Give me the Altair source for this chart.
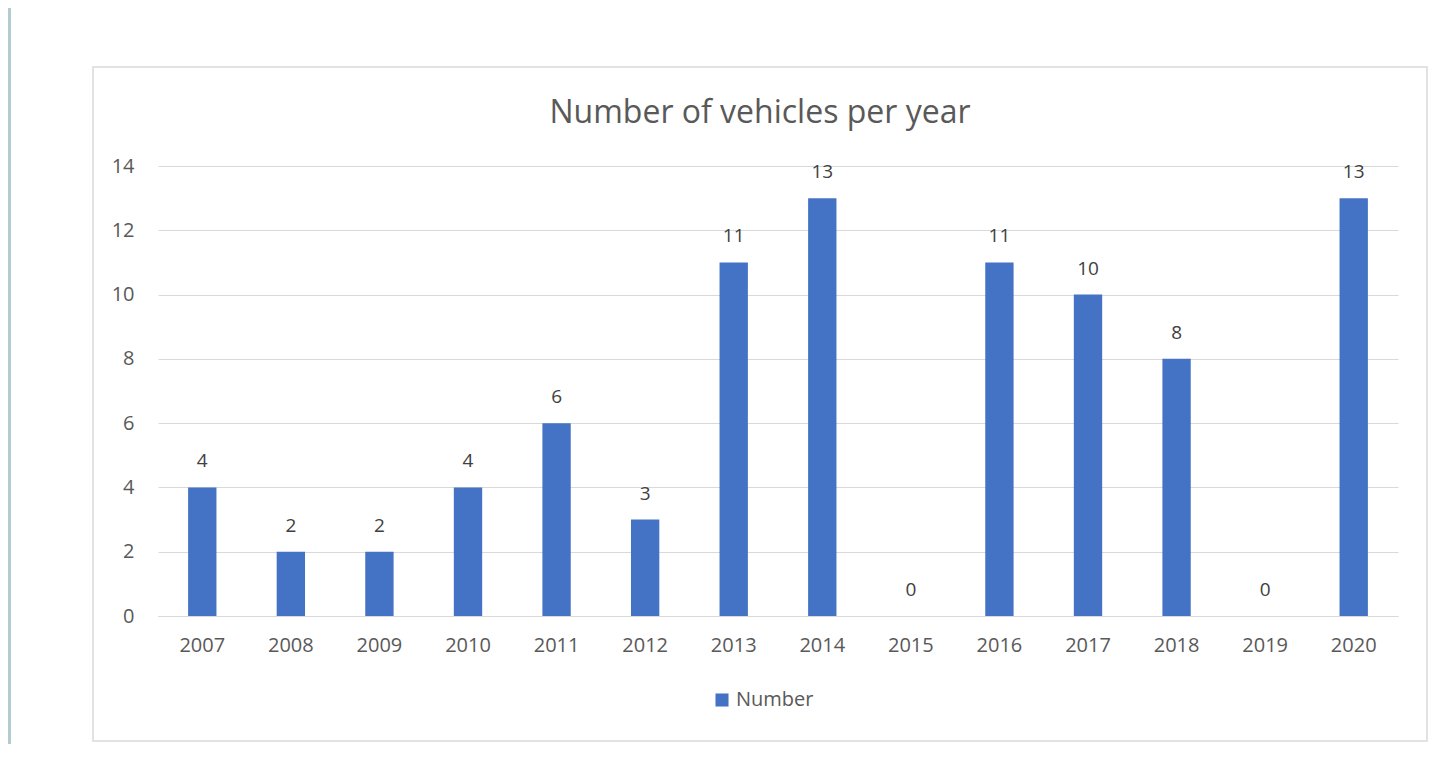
import altair as alt
import pandas as pd

years = ['2007', '2008', '2009', '2010', '2011', '2012', '2013',
         '2014', '2015', '2016', '2017', '2018', '2019', '2020']
numbers = [4, 2, 2, 4, 6, 3, 11, 13, 0, 11, 10, 8, 0, 13]
series_name = 'Number'
y_ticks = [0, 2, 4, 6, 8, 10, 12, 14]
title_text = 'Number of vehicles per year'

df = pd.DataFrame({'year': years, 'value': numbers, 'series': [series_name] * len(years)})

W, H = 1240, 450
FONT = 'Open Sans'
BAR = '#4472c4'
GRID = '#d9d9d9'
LABEL = '#595959'

x_enc = alt.X('year:O', sort=years,
              scale=alt.Scale(paddingInner=0.68, paddingOuter=0.34),
              axis=alt.Axis(title=None, labelAngle=0, labelFont=FONT, labelFontSize=20,
                            labelColor=LABEL, labelPadding=19, ticks=False,
                            domainColor=GRID, domainWidth=1, grid=False))
y_enc = alt.Y('value:Q', scale=alt.Scale(domain=[0, 14], nice=False),
              axis=alt.Axis(values=y_ticks, title=None, domain=False, ticks=False,
                            labelPadding=24, gridColor=GRID, labelFont=FONT,
                            labelFontSize=20, labelColor=LABEL))

bars = alt.Chart(df).mark_bar().encode(
    x=x_enc, y=y_enc,
    color=alt.Color('series:N', scale=alt.Scale(range=[BAR]),
                    legend=alt.Legend(orient='none', legendX=554, legendY=524, title=None,
                                      symbolType='square', symbolSize=170,
                                      symbolStrokeWidth=0, labelFont=FONT,
                                      labelFontSize=20, labelColor=LABEL, labelOffset=4))
)

labels = alt.Chart(df).mark_text(dy=-26, fontSize=19, font=FONT, color='#404040').encode(
    x=alt.X('year:O', sort=years), y='value:Q', text='value:Q'
)

title = alt.Chart(alt.Data(values=[{'t': title_text}])).mark_text(
    font=FONT, fontSize=32, color=LABEL, align='center', baseline='middle'
).encode(x=alt.value(602), y=alt.value(-53), text='t:N')

frame = alt.Chart(alt.Data(values=[{}])).mark_rect(
    fill='transparent', stroke=GRID, strokeWidth=1.5
).encode(x=alt.value(-65), x2=alt.value(1269), y=alt.value(-99), y2=alt.value(575))

strip = alt.Chart(alt.Data(values=[{}])).mark_rect(fill='#b4cbd0').encode(
    x=alt.value(-150), x2=alt.value(-147), y=alt.value(-158), y2=alt.value(578)
)

chart = alt.layer(strip, frame, bars, labels, title).properties(
    width=W, height=H,
    autosize='none',
    padding={'left': 150, 'top': 158, 'right': 30, 'bottom': 128}
).configure_view(stroke=None)

chart.save("out.html", embed_options={"renderer": "svg", "actions": False})
